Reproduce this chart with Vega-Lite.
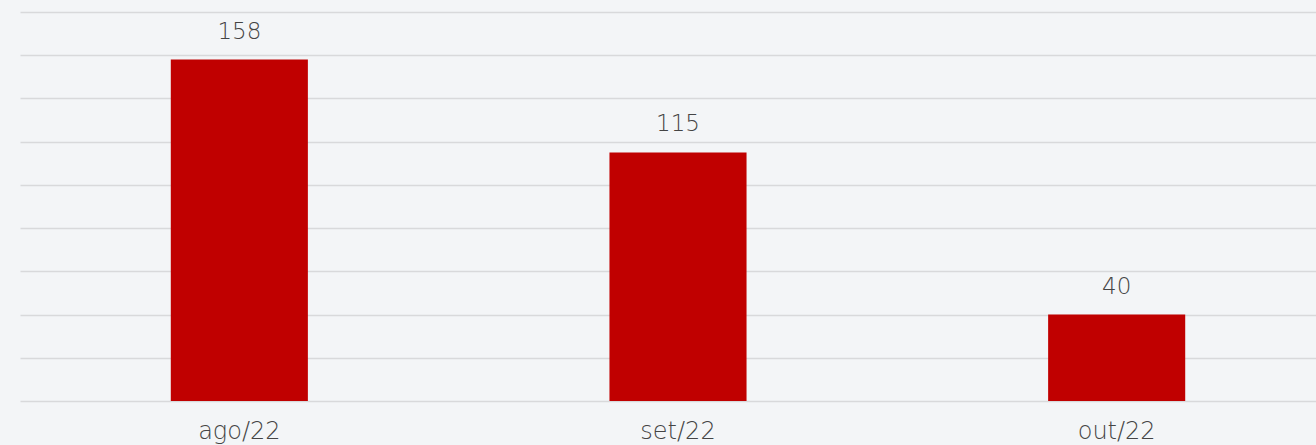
{
  "$schema": "https://vega.github.io/schema/vega-lite/v6.json",
  "width": 1316,
  "height": 389,
  "padding": {"left": 20, "top": 12, "right": 0, "bottom": 44},
  "autosize": {"type": "none"},
  "background": "#f3f5f7",
  "config": {"view": {"stroke": null}},
  "data": {"values": [
    {"mes": "ago/22", "valor": 158},
    {"mes": "set/22", "valor": 115},
    {"mes": "out/22", "valor": 40}
  ]},
  "encoding": {
    "x": {"field": "mes", "type": "nominal", "sort": null,
      "scale": {"paddingInner": 0.6875, "paddingOuter": 0.34375},
      "axis": {"title": null, "domain": false, "ticks": false, "labelAngle": 0,
        "labelFont": "DejaVu Sans", "labelFontWeight": 200, "labelFontSize": 24, "labelColor": "#444444", "labelPadding": 18}},
    "y": {"field": "valor", "type": "quantitative",
      "scale": {"domain": [0, 180], "nice": false},
      "axis": {"title": null, "domain": false, "ticks": false, "labels": false, "values": [0,20,40,60,80,100,120,140,160,180],
        "grid": true, "gridColor": "#d8d9db", "gridWidth": 1.5}}
  },
  "layer": [
    {"mark": {"type": "bar", "color": "#c00000"}},
    {"mark": {"type": "text", "dy": -28, "font": "DejaVu Sans", "fontWeight": 200, "fontSize": 23, "color": "#444444"},
      "encoding": {"text": {"field": "valor", "type": "quantitative"}}}
  ]
}
